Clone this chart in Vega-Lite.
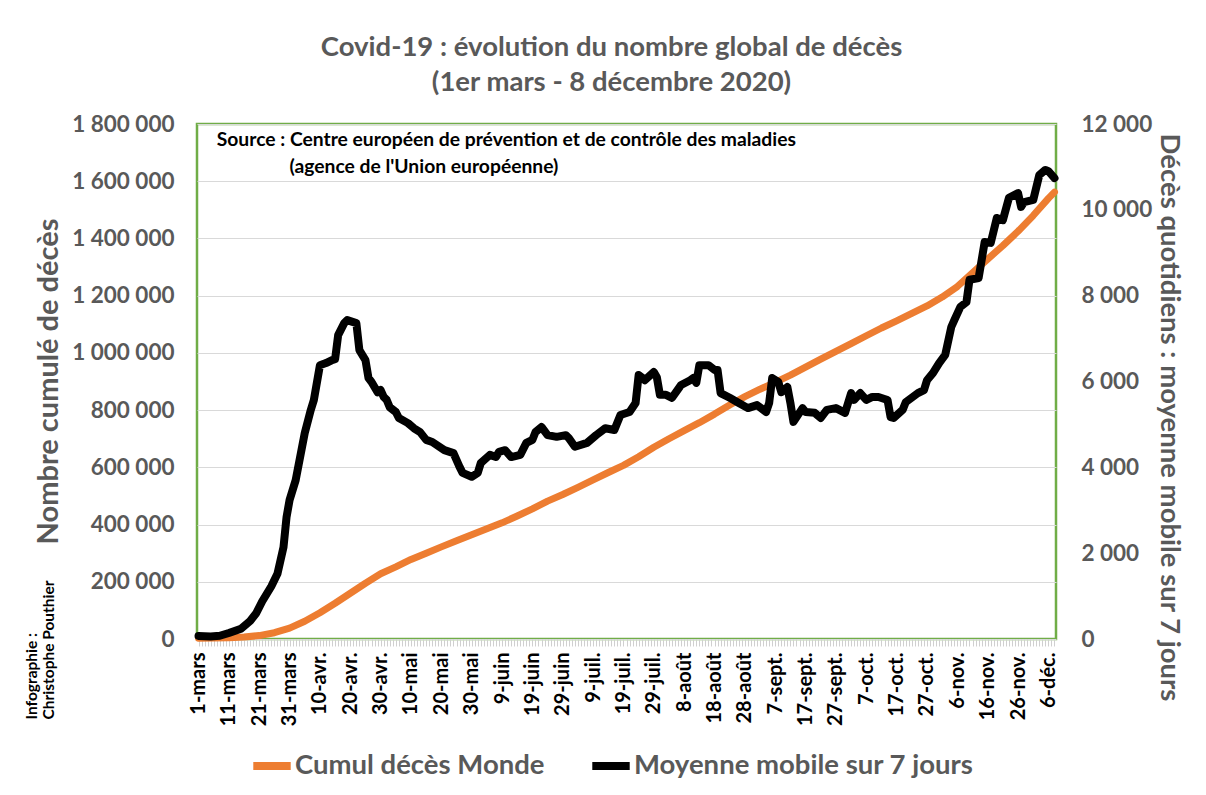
{
  "$schema": "https://vega.github.io/schema/vega-lite/v6.json",
  "width": 859,
  "height": 515,
  "autosize": {"type": "none"},
  "padding": {"left": 197, "top": 124, "right": 150, "bottom": 156},
  "background": "white",
  "config": {
    "font": "Lato",
    "view": {"stroke": "#70AD47", "strokeWidth": 2.5}
  },
  "title": {
    "text": ["Covid-19 : évolution du nombre global de décès", "(1er mars - 8 décembre 2020)"],
    "font": "Lato",
    "fontSize": 27.5,
    "fontWeight": "bold",
    "color": "#595959",
    "lineHeight": 35,
    "anchor": "middle",
    "frame": "group",
    "dx": -15,
    "offset": 17
  },
  "datasets": {
    "cumul": [
      {"date": "2020-03-01", "deces_cumules": 3000},
      {"date": "2020-03-06", "deces_cumules": 3500},
      {"date": "2020-03-11", "deces_cumules": 4500},
      {"date": "2020-03-16", "deces_cumules": 7000},
      {"date": "2020-03-21", "deces_cumules": 12000},
      {"date": "2020-03-26", "deces_cumules": 22000},
      {"date": "2020-03-31", "deces_cumules": 38000},
      {"date": "2020-04-05", "deces_cumules": 62000},
      {"date": "2020-04-10", "deces_cumules": 92000},
      {"date": "2020-04-15", "deces_cumules": 125000},
      {"date": "2020-04-20", "deces_cumules": 160000},
      {"date": "2020-04-25", "deces_cumules": 195000},
      {"date": "2020-04-30", "deces_cumules": 228000},
      {"date": "2020-05-05", "deces_cumules": 252000},
      {"date": "2020-05-10", "deces_cumules": 278000},
      {"date": "2020-05-15", "deces_cumules": 300000},
      {"date": "2020-05-20", "deces_cumules": 322000},
      {"date": "2020-05-25", "deces_cumules": 343000},
      {"date": "2020-05-30", "deces_cumules": 364000},
      {"date": "2020-06-04", "deces_cumules": 385000},
      {"date": "2020-06-09", "deces_cumules": 406000},
      {"date": "2020-06-14", "deces_cumules": 430000},
      {"date": "2020-06-19", "deces_cumules": 455000},
      {"date": "2020-06-24", "deces_cumules": 482000},
      {"date": "2020-06-29", "deces_cumules": 505000},
      {"date": "2020-07-04", "deces_cumules": 530000},
      {"date": "2020-07-09", "deces_cumules": 556000},
      {"date": "2020-07-14", "deces_cumules": 582000},
      {"date": "2020-07-19", "deces_cumules": 607000},
      {"date": "2020-07-24", "deces_cumules": 637000},
      {"date": "2020-07-29", "deces_cumules": 670000},
      {"date": "2020-08-03", "deces_cumules": 700000},
      {"date": "2020-08-08", "deces_cumules": 728000},
      {"date": "2020-08-13", "deces_cumules": 756000},
      {"date": "2020-08-18", "deces_cumules": 786000},
      {"date": "2020-08-23", "deces_cumules": 818000},
      {"date": "2020-08-28", "deces_cumules": 847000},
      {"date": "2020-09-02", "deces_cumules": 873000},
      {"date": "2020-09-07", "deces_cumules": 897000},
      {"date": "2020-09-12", "deces_cumules": 922000},
      {"date": "2020-09-17", "deces_cumules": 950000},
      {"date": "2020-09-22", "deces_cumules": 978000},
      {"date": "2020-09-27", "deces_cumules": 1005000},
      {"date": "2020-10-02", "deces_cumules": 1032000},
      {"date": "2020-10-07", "deces_cumules": 1060000},
      {"date": "2020-10-12", "deces_cumules": 1087000},
      {"date": "2020-10-17", "deces_cumules": 1112000},
      {"date": "2020-10-22", "deces_cumules": 1138000},
      {"date": "2020-10-27", "deces_cumules": 1164000},
      {"date": "2020-11-01", "deces_cumules": 1195000},
      {"date": "2020-11-06", "deces_cumules": 1232000},
      {"date": "2020-11-11", "deces_cumules": 1280000},
      {"date": "2020-11-16", "deces_cumules": 1328000},
      {"date": "2020-11-21", "deces_cumules": 1375000},
      {"date": "2020-11-26", "deces_cumules": 1425000},
      {"date": "2020-12-01", "deces_cumules": 1480000},
      {"date": "2020-12-06", "deces_cumules": 1540000},
      {"date": "2020-12-08", "deces_cumules": 1562000}
    ],
    "moyenne": [
      {"date": "2020-03-01", "moyenne_7j": 70},
      {"date": "2020-03-05", "moyenne_7j": 60},
      {"date": "2020-03-08", "moyenne_7j": 75},
      {"date": "2020-03-11", "moyenne_7j": 140},
      {"date": "2020-03-15", "moyenne_7j": 240},
      {"date": "2020-03-18", "moyenne_7j": 420},
      {"date": "2020-03-20", "moyenne_7j": 600},
      {"date": "2020-03-22", "moyenne_7j": 880},
      {"date": "2020-03-25", "moyenne_7j": 1230},
      {"date": "2020-03-27", "moyenne_7j": 1520},
      {"date": "2020-03-29", "moyenne_7j": 2140},
      {"date": "2020-03-30", "moyenne_7j": 2840},
      {"date": "2020-03-31", "moyenne_7j": 3240},
      {"date": "2020-04-02", "moyenne_7j": 3700},
      {"date": "2020-04-05", "moyenne_7j": 4800},
      {"date": "2020-04-07", "moyenne_7j": 5340},
      {"date": "2020-04-08", "moyenne_7j": 5570},
      {"date": "2020-04-10", "moyenne_7j": 6380},
      {"date": "2020-04-12", "moyenne_7j": 6430},
      {"date": "2020-04-14", "moyenne_7j": 6500},
      {"date": "2020-04-15", "moyenne_7j": 6520},
      {"date": "2020-04-16", "moyenne_7j": 7080},
      {"date": "2020-04-18", "moyenne_7j": 7360},
      {"date": "2020-04-19", "moyenne_7j": 7430},
      {"date": "2020-04-22", "moyenne_7j": 7360},
      {"date": "2020-04-23", "moyenne_7j": 6730},
      {"date": "2020-04-25", "moyenne_7j": 6500},
      {"date": "2020-04-26", "moyenne_7j": 6080},
      {"date": "2020-04-27", "moyenne_7j": 5990},
      {"date": "2020-04-29", "moyenne_7j": 5750},
      {"date": "2020-04-30", "moyenne_7j": 5800},
      {"date": "2020-05-01", "moyenne_7j": 5640},
      {"date": "2020-05-02", "moyenne_7j": 5570},
      {"date": "2020-05-03", "moyenne_7j": 5400},
      {"date": "2020-05-05", "moyenne_7j": 5290},
      {"date": "2020-05-06", "moyenne_7j": 5150},
      {"date": "2020-05-09", "moyenne_7j": 5030},
      {"date": "2020-05-11", "moyenne_7j": 4910},
      {"date": "2020-05-13", "moyenne_7j": 4820},
      {"date": "2020-05-15", "moyenne_7j": 4640},
      {"date": "2020-05-17", "moyenne_7j": 4590},
      {"date": "2020-05-21", "moyenne_7j": 4400},
      {"date": "2020-05-24", "moyenne_7j": 4330},
      {"date": "2020-05-26", "moyenne_7j": 4010},
      {"date": "2020-05-27", "moyenne_7j": 3870},
      {"date": "2020-05-30", "moyenne_7j": 3780},
      {"date": "2020-06-01", "moyenne_7j": 3870},
      {"date": "2020-06-02", "moyenne_7j": 4100},
      {"date": "2020-06-05", "moyenne_7j": 4290},
      {"date": "2020-06-07", "moyenne_7j": 4240},
      {"date": "2020-06-08", "moyenne_7j": 4360},
      {"date": "2020-06-10", "moyenne_7j": 4400},
      {"date": "2020-06-12", "moyenne_7j": 4240},
      {"date": "2020-06-15", "moyenne_7j": 4290},
      {"date": "2020-06-17", "moyenne_7j": 4570},
      {"date": "2020-06-19", "moyenne_7j": 4640},
      {"date": "2020-06-20", "moyenne_7j": 4820},
      {"date": "2020-06-22", "moyenne_7j": 4940},
      {"date": "2020-06-24", "moyenne_7j": 4750},
      {"date": "2020-06-27", "moyenne_7j": 4710},
      {"date": "2020-06-30", "moyenne_7j": 4750},
      {"date": "2020-07-01", "moyenne_7j": 4680},
      {"date": "2020-07-03", "moyenne_7j": 4480},
      {"date": "2020-07-07", "moyenne_7j": 4570},
      {"date": "2020-07-10", "moyenne_7j": 4750},
      {"date": "2020-07-13", "moyenne_7j": 4910},
      {"date": "2020-07-16", "moyenne_7j": 4870},
      {"date": "2020-07-18", "moyenne_7j": 5220},
      {"date": "2020-07-21", "moyenne_7j": 5290},
      {"date": "2020-07-23", "moyenne_7j": 5500},
      {"date": "2020-07-24", "moyenne_7j": 6150},
      {"date": "2020-07-25", "moyenne_7j": 6100},
      {"date": "2020-07-26", "moyenne_7j": 6030},
      {"date": "2020-07-29", "moyenne_7j": 6220},
      {"date": "2020-07-30", "moyenne_7j": 6100},
      {"date": "2020-07-31", "moyenne_7j": 5690},
      {"date": "2020-08-02", "moyenne_7j": 5690},
      {"date": "2020-08-04", "moyenne_7j": 5620},
      {"date": "2020-08-07", "moyenne_7j": 5920},
      {"date": "2020-08-10", "moyenne_7j": 6030},
      {"date": "2020-08-11", "moyenne_7j": 6080},
      {"date": "2020-08-12", "moyenne_7j": 5970},
      {"date": "2020-08-13", "moyenne_7j": 6380},
      {"date": "2020-08-16", "moyenne_7j": 6380},
      {"date": "2020-08-18", "moyenne_7j": 6270},
      {"date": "2020-08-19", "moyenne_7j": 6270},
      {"date": "2020-08-20", "moyenne_7j": 5730},
      {"date": "2020-08-23", "moyenne_7j": 5620},
      {"date": "2020-08-26", "moyenne_7j": 5500},
      {"date": "2020-08-29", "moyenne_7j": 5380},
      {"date": "2020-09-01", "moyenne_7j": 5450},
      {"date": "2020-09-04", "moyenne_7j": 5290},
      {"date": "2020-09-05", "moyenne_7j": 5500},
      {"date": "2020-09-06", "moyenne_7j": 6080},
      {"date": "2020-09-08", "moyenne_7j": 5990},
      {"date": "2020-09-09", "moyenne_7j": 5750},
      {"date": "2020-09-11", "moyenne_7j": 5870},
      {"date": "2020-09-12", "moyenne_7j": 5500},
      {"date": "2020-09-13", "moyenne_7j": 5060},
      {"date": "2020-09-16", "moyenne_7j": 5380},
      {"date": "2020-09-17", "moyenne_7j": 5290},
      {"date": "2020-09-20", "moyenne_7j": 5270},
      {"date": "2020-09-22", "moyenne_7j": 5150},
      {"date": "2020-09-24", "moyenne_7j": 5340},
      {"date": "2020-09-27", "moyenne_7j": 5380},
      {"date": "2020-09-30", "moyenne_7j": 5270},
      {"date": "2020-10-02", "moyenne_7j": 5730},
      {"date": "2020-10-03", "moyenne_7j": 5570},
      {"date": "2020-10-05", "moyenne_7j": 5730},
      {"date": "2020-10-07", "moyenne_7j": 5570},
      {"date": "2020-10-09", "moyenne_7j": 5640},
      {"date": "2020-10-11", "moyenne_7j": 5640},
      {"date": "2020-10-14", "moyenne_7j": 5570},
      {"date": "2020-10-15", "moyenne_7j": 5170},
      {"date": "2020-10-16", "moyenne_7j": 5150},
      {"date": "2020-10-19", "moyenne_7j": 5340},
      {"date": "2020-10-20", "moyenne_7j": 5520},
      {"date": "2020-10-24", "moyenne_7j": 5730},
      {"date": "2020-10-26", "moyenne_7j": 5800},
      {"date": "2020-10-27", "moyenne_7j": 6030},
      {"date": "2020-10-29", "moyenne_7j": 6200},
      {"date": "2020-10-31", "moyenne_7j": 6430},
      {"date": "2020-11-02", "moyenne_7j": 6620},
      {"date": "2020-11-04", "moyenne_7j": 7270},
      {"date": "2020-11-05", "moyenne_7j": 7430},
      {"date": "2020-11-07", "moyenne_7j": 7740},
      {"date": "2020-11-09", "moyenne_7j": 7850},
      {"date": "2020-11-10", "moyenne_7j": 8370},
      {"date": "2020-11-13", "moyenne_7j": 8410},
      {"date": "2020-11-15", "moyenne_7j": 9250},
      {"date": "2020-11-17", "moyenne_7j": 9230},
      {"date": "2020-11-19", "moyenne_7j": 9810},
      {"date": "2020-11-21", "moyenne_7j": 9760},
      {"date": "2020-11-23", "moyenne_7j": 10280},
      {"date": "2020-11-26", "moyenne_7j": 10390},
      {"date": "2020-11-27", "moyenne_7j": 10070},
      {"date": "2020-11-28", "moyenne_7j": 10180},
      {"date": "2020-12-01", "moyenne_7j": 10230},
      {"date": "2020-12-03", "moyenne_7j": 10810},
      {"date": "2020-12-05", "moyenne_7j": 10930},
      {"date": "2020-12-06", "moyenne_7j": 10900},
      {"date": "2020-12-08", "moyenne_7j": 10740}
    ]
  },
  "layer": [
    {
      "layer": [
        {
          "data": {"name": "cumul"},
          "mark": {"type": "line", "color": "#ED7D31", "strokeWidth": 7, "strokeCap": "round", "strokeJoin": "round"},
          "encoding": {
            "x": {
              "field": "date",
              "type": "temporal",
              "scale": {
                "type": "utc",
                "domain": [
                  {"year": 2020, "month": 2, "date": 29, "hours": 12, "utc": true},
                  {"year": 2020, "month": 12, "date": 8, "hours": 12, "utc": true}
                ]
              },
              "axis": {
                "tickCount": {"interval": "day", "step": 1},
                "labelExpr": "(round((datum.value - utc(2020, 2, 1)) / 86400000) % 10 == 0) ? utcdate(datum.value) + '-' + ['janv.','févr.','mars','avr.','mai','juin','juil.','août','sept.','oct.','nov.','déc.'][utcmonth(datum.value)] : ''",
                "labelAngle": 270,
                "labelFont": "Lato",
                "labelFontWeight": "bold",
                "labelFontSize": 20,
                "labelColor": "#000000",
                "labelOverlap": false,
                "labelFlush": false,
                "labelBound": false,
                "labelPadding": 6,
                "ticks": true,
                "tickColor": "#D0D0D0",
                "tickSize": 7,
                "tickWidth": 1,
                "domain": false,
                "grid": false,
                "title": ["Infographie :", "Christophe Pouthier"],
                "titleFont": "Lato",
                "titleFontSize": 15.5,
                "titleFontWeight": "bold",
                "titleColor": "#000000",
                "titleAngle": 270,
                "titleAlign": "left",
                "titleBaseline": "alphabetic",
                "titleLineHeight": 17,
                "titleX": -161,
                "titleY": 80
              }
            },
            "y": {
              "field": "deces_cumules",
              "type": "quantitative",
              "scale": {"domain": [0, 1800000]},
              "axis": {
                "orient": "left",
                "values": [0, 200000, 400000, 600000, 800000, 1000000, 1200000, 1400000, 1600000, 1800000],
                "labelExpr": "replace(format(datum.value, ',d'), regexp(',', 'g'), ' ')",
                "labelFont": "Lato",
                "labelFontSize": 22.5,
                "labelFontWeight": "bold",
                "labelColor": "#595959",
                "labelPadding": 23,
                "ticks": false,
                "domain": false,
                "grid": true,
                "gridColor": "#D9D9D9",
                "gridWidth": 1,
                "title": "Nombre cumulé de décès",
                "titleFont": "Lato",
                "titleFontSize": 29,
                "titleFontWeight": "bold",
                "titleColor": "#595959",
                "titleAngle": 270,
                "titleAlign": "center",
                "titleBaseline": "middle",
                "titleX": -149,
                "titleY": 257
              }
            },
            "color": {
              "datum": "Cumul décès Monde",
              "type": "nominal",
              "scale": {
                "domain": ["Cumul décès Monde", "Moyenne mobile sur 7 jours"],
                "range": ["#ED7D31", "#000000"]
              },
              "legend": {
                "orient": "none",
                "direction": "horizontal",
                "legendX": 52,
                "legendY": 619,
                "title": null,
                "padding": 0,
                "symbolType": "stroke",
                "symbolSize": 1400,
                "symbolStrokeWidth": 8,
                "labelFont": "Lato",
                "labelFontSize": 27.5,
                "labelFontWeight": "bold",
                "labelColor": "#595959",
                "labelOffset": 0,
                "columnPadding": 31,
                "labelLimit": 600
              }
            }
          }
        },
        {
          "data": {"values": [{}]},
          "mark": {"type": "text", "font": "Lato", "fontWeight": "bold", "fontSize": 19.3, "color": "#000000", "align": "left", "baseline": "middle"},
          "encoding": {
            "x": {"datum": {"year": 2020, "month": 3, "date": 7, "utc": true}, "type": "temporal"},
            "y": {"datum": 1744000, "type": "quantitative"},
            "text": {"value": "Source : Centre européen de prévention et de contrôle des maladies"}
          }
        },
        {
          "data": {"values": [{}]},
          "mark": {"type": "text", "font": "Lato", "fontWeight": "bold", "fontSize": 19.3, "color": "#000000", "align": "left", "baseline": "middle"},
          "encoding": {
            "x": {"datum": {"year": 2020, "month": 3, "date": 31, "utc": true}, "type": "temporal"},
            "y": {"datum": 1650000, "type": "quantitative"},
            "text": {"value": "(agence de l'Union européenne)"}
          }
        }
      ]
    },
    {
      "data": {"name": "moyenne"},
      "mark": {"type": "line", "color": "#000000", "strokeWidth": 8, "strokeCap": "round", "strokeJoin": "round"},
      "encoding": {
        "x": {"field": "date", "type": "temporal"},
        "y": {
          "field": "moyenne_7j",
          "type": "quantitative",
          "scale": {"domain": [0, 12000]},
          "axis": {
            "orient": "right",
            "values": [0, 2000, 4000, 6000, 8000, 10000, 12000],
            "labelExpr": "replace(format(datum.value, ',d'), regexp(',', 'g'), ' ')",
            "labelFont": "Lato",
            "labelFontSize": 22.5,
            "labelFontWeight": "bold",
            "labelColor": "#595959",
            "labelPadding": 25,
            "ticks": false,
            "domain": false,
            "grid": false,
            "title": "Décès quotidiens : moyenne mobile sur 7 jours",
            "titleFont": "Lato",
            "titleFontSize": 27.5,
            "titleFontWeight": "bold",
            "titleColor": "#595959",
            "titleAngle": 90,
            "titleAlign": "center",
            "titleBaseline": "middle",
            "titleX": 112,
            "titleY": 293
          }
        },
        "color": {"datum": "Moyenne mobile sur 7 jours", "type": "nominal"}
      }
    }
  ],
  "resolve": {"scale": {"y": "independent"}}
}
